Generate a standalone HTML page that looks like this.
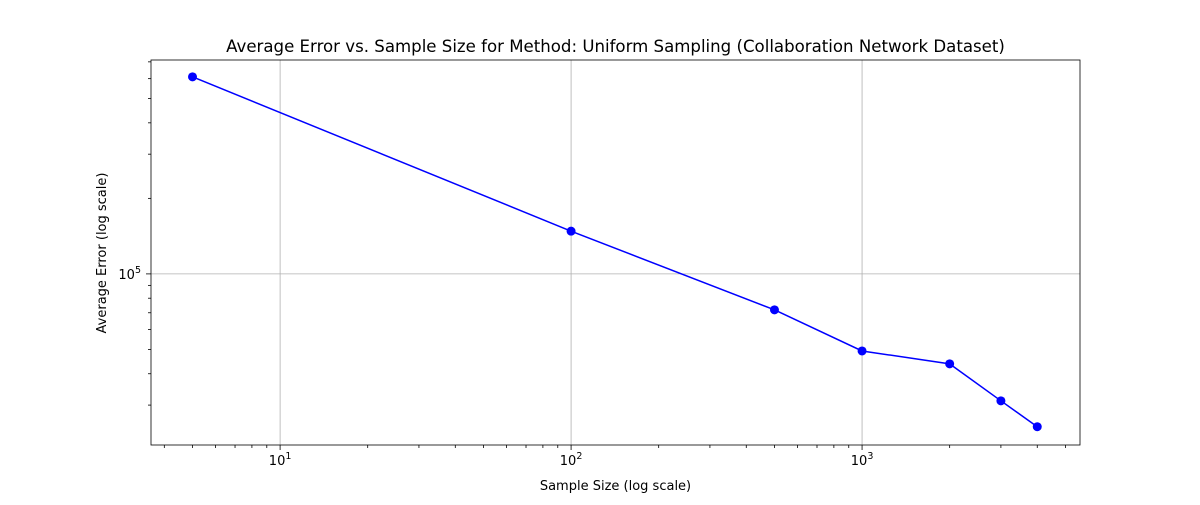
<!DOCTYPE html>
<html><head><meta charset="utf-8"><style>
body{margin:0;background:#fff;font-family:"Liberation Sans","DejaVu Sans",sans-serif;}
svg text{font-family:"DejaVu Sans","Liberation Sans",sans-serif;}
</style></head><body>
<svg id="chart" width="1200" height="500" xmlns="http://www.w3.org/2000/svg"></svg>
<script>
const sampleSizes = [5, 100, 500, 1000, 2000, 3000, 4000];
const avgErrors = [610000, 148000, 71900, 49300, 43800, 31200, 24600];
const xTickExps = [1, 2, 3];
const yTickExps = [5];

const L=151,R=1080,T=60,B=445;
const xMinLog=Math.log10(3.6), xMaxLog=Math.log10(5610);
const yMinLog=Math.log10(20800), yMaxLog=Math.log10(712000);
const X=v=>L+(Math.log10(v)-xMinLog)/(xMaxLog-xMinLog)*(R-L);
const Y=v=>B-(Math.log10(v)-yMinLog)/(yMaxLog-yMinLog)*(B-T);
const svg=document.getElementById('chart');
const NS='http://www.w3.org/2000/svg';
function mk(tag,attrs,parent){const e=document.createElementNS(NS,tag);for(const k in attrs)e.setAttribute(k,attrs[k]);(parent||svg).appendChild(e);return e;}

xTickExps.forEach(p=>{const x=X(Math.pow(10,p));
const g=mk('line',{x1:x,x2:x,y1:T,y2:B,stroke:'#b0b0b0','stroke-width':0.8});

});
yTickExps.forEach(p=>{const y=Y(Math.pow(10,p));
const g=mk('line',{x1:L,x2:R,y1:y,y2:y,stroke:'#b0b0b0','stroke-width':0.8});

});

for(let p=0;p<=4;p++)for(let m=1;m<10;m++){const v=m*Math.pow(10,p);
 if(Math.log10(v)<xMinLog||Math.log10(v)>xMaxLog)continue;const x=X(v);
 mk('line',{x1:x,x2:x,y1:B,y2:B+(m==1?5:3),stroke:'#000','stroke-width':0.8});}
for(let p=4;p<=6;p++)for(let m=1;m<10;m++){const v=m*Math.pow(10,p);
 if(Math.log10(v)<yMinLog||Math.log10(v)>yMaxLog)continue;const y=Y(v);
 mk('line',{x1:L,x2:L-(m==1?5:3),y1:y,y2:y,stroke:'#000','stroke-width':0.8});}

xTickExps.forEach(p=>{const t=mk('text',{x:X(Math.pow(10,p)),y:B+20,'text-anchor':'middle','font-size':13});


t.innerHTML='10<tspan dy="-6" font-size="9.5">'+p+'</tspan>';});
yTickExps.forEach(p=>{const t=mk('text',{x:L-10,y:Y(Math.pow(10,p))+5,'text-anchor':'end','font-size':13});


t.innerHTML='10<tspan dy="-6" font-size="9.5">'+p+'</tspan>';});

const pts=sampleSizes.map((s,i)=>X(s)+','+Y(avgErrors[i])).join(' ');
const pl=mk('polyline',{points:pts,fill:'none',stroke:'#0000ff','stroke-width':1.5});


sampleSizes.forEach((s,i)=>{const c=mk('circle',{cx:X(s),cy:Y(avgErrors[i]),r:4.5,fill:'#0000ff'});

});

const f=mk('rect',{x:L,y:T,width:R-L,height:B-T,fill:'none',stroke:'#000','stroke-width':0.8});



const tt=mk('text',{x:(L+R)/2,y:52,'text-anchor':'middle','font-size':16.6});


tt.textContent='Average Error vs. Sample Size for Method: Uniform Sampling (Collaboration Network Dataset)';
const xl=mk('text',{x:(L+R)/2,y:490,'text-anchor':'middle','font-size':13});


xl.textContent='Sample Size (log scale)';
const yl=mk('text',{x:0,y:0,'text-anchor':'middle','font-size':13,transform:'translate(106,253) rotate(-90)'});


yl.textContent='Average Error (log scale)';
</script>
</body></html>
